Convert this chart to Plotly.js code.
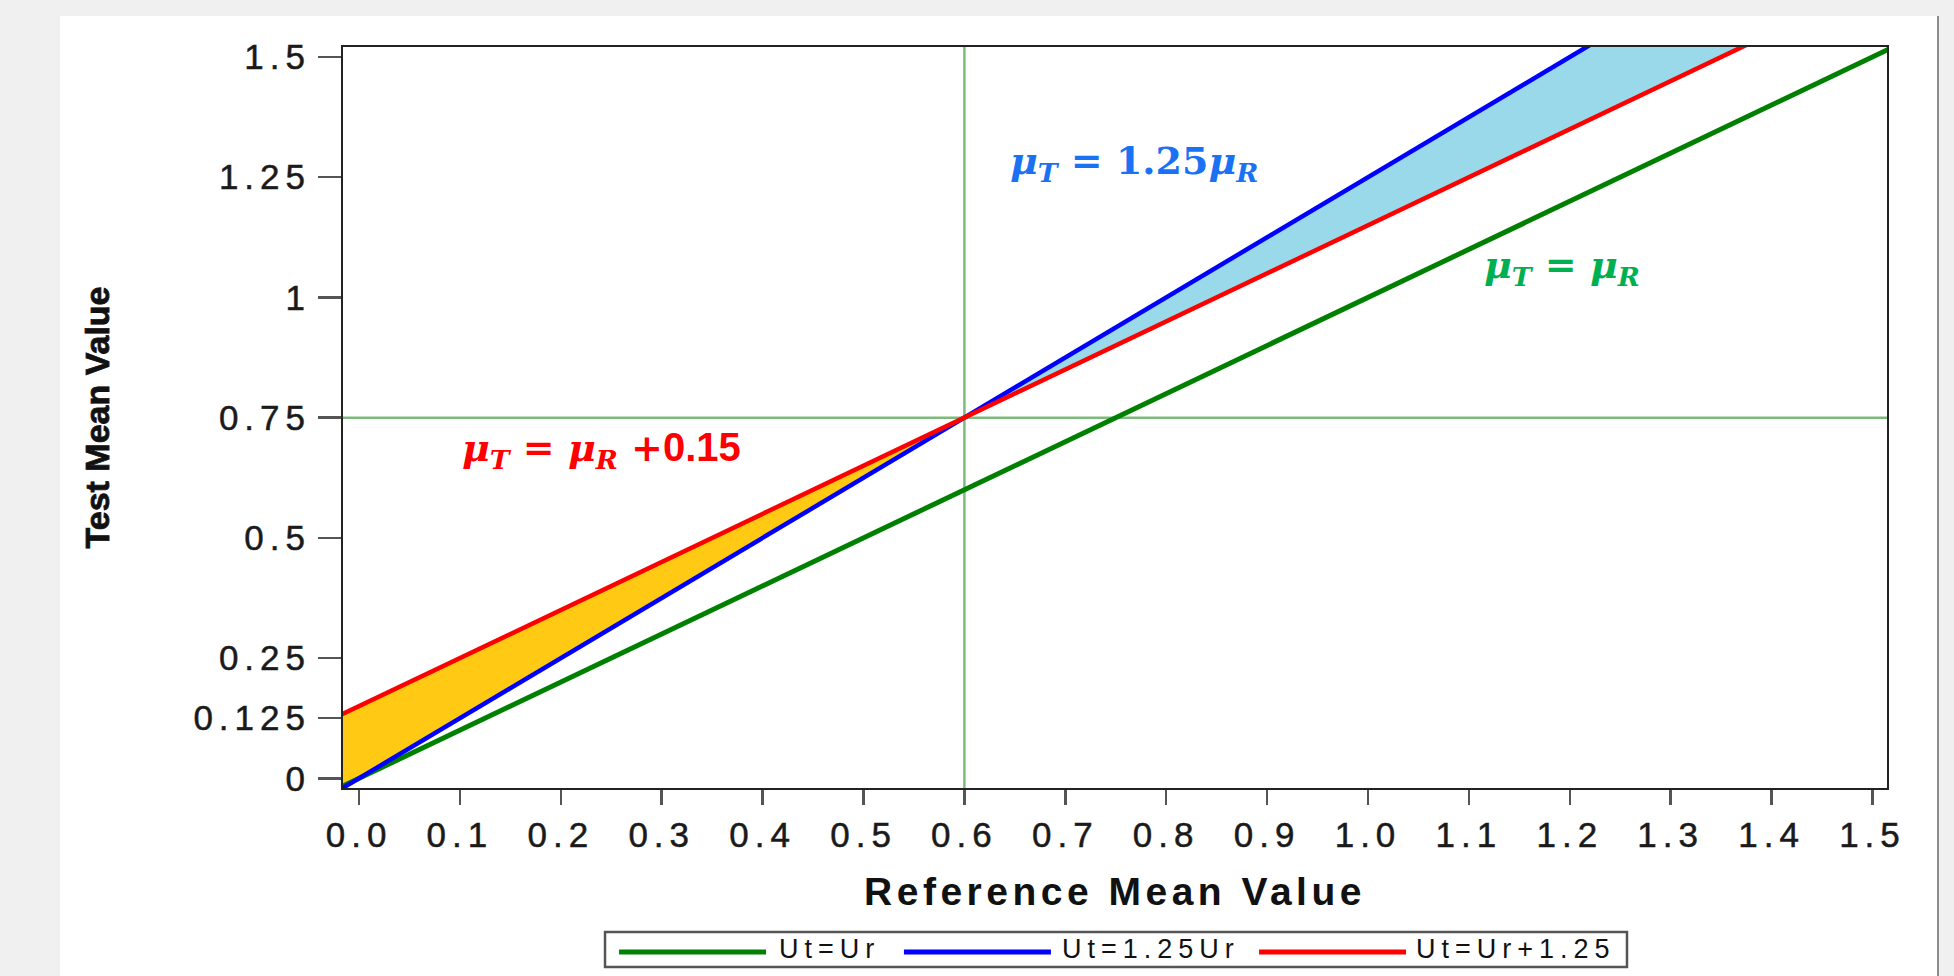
<!DOCTYPE html>
<html>
<head>
<meta charset="utf-8">
<script src="https://cdn.plot.ly/plotly-3.0.1.min.js"></script>
<style>
  html, body { margin: 0; padding: 0; background: #f0f0f0; width: 1954px; height: 976px; overflow: hidden; }
  #chart { position: absolute; left: 60px; top: 16px; width: 1877px; height: 960px; background: #fff; border-right: 2px solid #8c8c8c; }
  .xtick text, .ytick text { letter-spacing: 6px; stroke: #1a1a1a; stroke-width: 0.5px; }
  .xtitle { letter-spacing: 4.5px; }
  .ytitle { stroke: #111; stroke-width: 0.8px; }
  g.annotation[data-index="3"] text, g.annotation[data-index="4"] text, g.annotation[data-index="5"] text { letter-spacing: 6px; }
</style>
</head>
<body>
<div id="chart"></div>
<script>
// Reference mean values (x) and the three boundary lines
const refMean   = [-0.02, 0, 0.3, 0.6, 0.9, 1.2, 1.5, 1.55];
const utEqUr    = [-0.02, 0, 0.3, 0.6, 0.9, 1.2, 1.5, 1.55];          // Ut = Ur
const ut125Ur   = [-0.025, 0, 0.375, 0.75, 1.125, 1.5, 1.875, 1.9375]; // Ut = 1.25 Ur
const utPlus015 = [0.13, 0.15, 0.45, 0.75, 1.05, 1.35, 1.65, 1.70];    // Ut = Ur + 0.15

const crossX = 0.6;   // reference vertical line
const crossY = 0.75;  // reference horizontal line

const seriesNames = ["Ut=Ur", "Ut=1.25Ur", "Ut=Ur+1.25"];
const seriesColors = ["#008000", "#0000ff", "#ff0000"];

const yTickVals = [0, 0.125, 0.25, 0.5, 0.75, 1, 1.25, 1.5];
const yTickText = ["0", "0.125", "0.25", "0.5", "0.75", "1", "1.25", "1.5"];
const xTickVals = [0, 0.1, 0.2, 0.3, 0.4, 0.5, 0.6, 0.7, 0.8, 0.9, 1.0, 1.1, 1.2, 1.3, 1.4, 1.5];
const xTickText = ["0.0","0.1","0.2","0.3","0.4","0.5","0.6","0.7","0.8","0.9","1.0","1.1","1.2","1.3","1.4","1.5"];

// Fill regions built from the line arrays
const lowIdx = refMean.map((x, i) => i).filter(i => refMean[i] <= crossX);
const highIdx = refMean.map((x, i) => i).filter(i => refMean[i] >= crossX);
const yellowX = lowIdx.map(i => refMean[i]).concat(lowIdx.slice().reverse().map(i => refMean[i]));
const yellowY = lowIdx.map(i => utPlus015[i]).concat(lowIdx.slice().reverse().map(i => ut125Ur[i]));
const blueX = highIdx.map(i => refMean[i]).concat(highIdx.slice().reverse().map(i => refMean[i]));
const blueY = highIdx.map(i => ut125Ur[i]).concat(highIdx.slice().reverse().map(i => utPlus015[i]));

const traces = [
  { x: yellowX, y: yellowY, type: 'scatter', mode: 'lines', fill: 'toself', fillcolor: '#ffc914', line: { width: 0 }, hoverinfo: 'skip', showlegend: false },
  { x: blueX, y: blueY, type: 'scatter', mode: 'lines', fill: 'toself', fillcolor: '#9ad9ea', line: { width: 0 }, hoverinfo: 'skip', showlegend: false },
  { x: refMean, y: utEqUr, type: 'scatter', mode: 'lines', name: seriesNames[0], line: { color: seriesColors[0], width: 5 }, showlegend: false },
  { x: refMean, y: ut125Ur, type: 'scatter', mode: 'lines', name: seriesNames[1], line: { color: seriesColors[1], width: 4.5 }, showlegend: false },
  { x: refMean, y: utPlus015, type: 'scatter', mode: 'lines', name: seriesNames[2], line: { color: seriesColors[2], width: 4.5 }, showlegend: false }
];

const eqFont = 'DejaVu Serif, Liberation Serif, serif';
const legendFont = { family: 'Liberation Sans, Arial, sans-serif', size: 27, color: '#111' };

// legend geometry (paper coords)
const legLineY = -0.2213;
const legLines = [[0.1788, 0.2740], [0.3633, 0.4585], [0.5933, 0.6885]];
const legTextX = [0.3148, 0.5233, 0.7600];

const shapes = [
  { type: 'line', xref: 'x', yref: 'paper', x0: crossX, x1: crossX, y0: 0, y1: 1, line: { color: '#7cbb7c', width: 2.5 }, layer: 'below' },
  { type: 'line', xref: 'paper', yref: 'y', x0: 0, x1: 1, y0: crossY, y1: crossY, line: { color: '#7cbb7c', width: 2.5 }, layer: 'below' },
  { type: 'rect', xref: 'paper', yref: 'paper', x0: 0.1697, x1: 0.8316, y0: -0.1943, y1: -0.2416, line: { color: '#555', width: 2.5 }, fillcolor: '#fff' }
];
legLines.forEach((l, i) => shapes.push({ type: 'line', xref: 'paper', yref: 'paper', x0: l[0], x1: l[1], y0: legLineY, y1: legLineY, line: { color: seriesColors[i], width: 5 } }));

const annotations = [
  { x: 0.768, y: 1.28, xref: 'x', yref: 'y', showarrow: false,
    text: '<b><i>μ</i><sub><i>T</i></sub> = 1.25<i>μ</i><sub><i>R</i></sub></b>',
    font: { family: eqFont, size: 38, color: '#1a72f2' } },
  { x: 1.192, y: 1.063, xref: 'x', yref: 'y', showarrow: false,
    text: '<b><i>μ</i><sub><i>T</i></sub> = <i>μ</i><sub><i>R</i></sub></b>',
    font: { family: eqFont, size: 38, color: '#00b050' } },
  { x: 0.240, y: 0.683, xref: 'x', yref: 'y', showarrow: false,
    text: '<b><i>μ</i><sub><i>T</i></sub> = <i>μ</i><sub><i>R</i></sub> +<span style="font-family:Liberation Sans, Arial, sans-serif;font-size:40px">0.15</span></b>',
    font: { family: eqFont, size: 38, color: '#ff0000' } }
];
seriesNames.forEach((n, i) => annotations.push({ x: legTextX[i], y: -0.217, xref: 'paper', yref: 'paper', xanchor: 'center', yanchor: 'middle', showarrow: false, text: n, font: legendFont }));

const layout = {
  width: 1877, height: 960,
  margin: { l: 283, r: 50, t: 31, b: 188 },
  paper_bgcolor: '#ffffff', plot_bgcolor: '#ffffff',
  showlegend: false,
  xaxis: {
    range: [-0.0159, 1.5144], tickvals: xTickVals, ticktext: xTickText,
    showgrid: false, zeroline: false, showline: true, mirror: true, linecolor: '#222', linewidth: 2,
    ticks: 'outside', ticklen: 15, tickwidth: 2.5, tickcolor: '#555',
    tickfont: { family: 'Liberation Sans, Arial, sans-serif', size: 35, color: '#1a1a1a' },
    title: { text: '<b>Reference Mean Value</b>', standoff: 25, font: { family: 'Liberation Sans, Arial, sans-serif', size: 39, color: '#111' } },
    automargin: false
  },
  yaxis: {
    range: [-0.0202, 1.5208], tickvals: yTickVals, ticktext: yTickText,
    showgrid: false, zeroline: false, showline: true, mirror: true, linecolor: '#222', linewidth: 2,
    ticks: 'outside', ticklen: 23, tickwidth: 2.5, tickcolor: '#555',
    tickfont: { family: 'Liberation Sans, Arial, sans-serif', size: 35, color: '#1a1a1a' },
    title: { text: '<b>Test Mean Value</b>', standoff: 74, font: { family: 'Liberation Sans, Arial, sans-serif', size: 34, color: '#111' } },
    automargin: false
  },
  shapes: shapes,
  annotations: annotations
};

Plotly.newPlot('chart', traces, layout, { displayModeBar: false, staticPlot: true });
</script>
</body>
</html>
